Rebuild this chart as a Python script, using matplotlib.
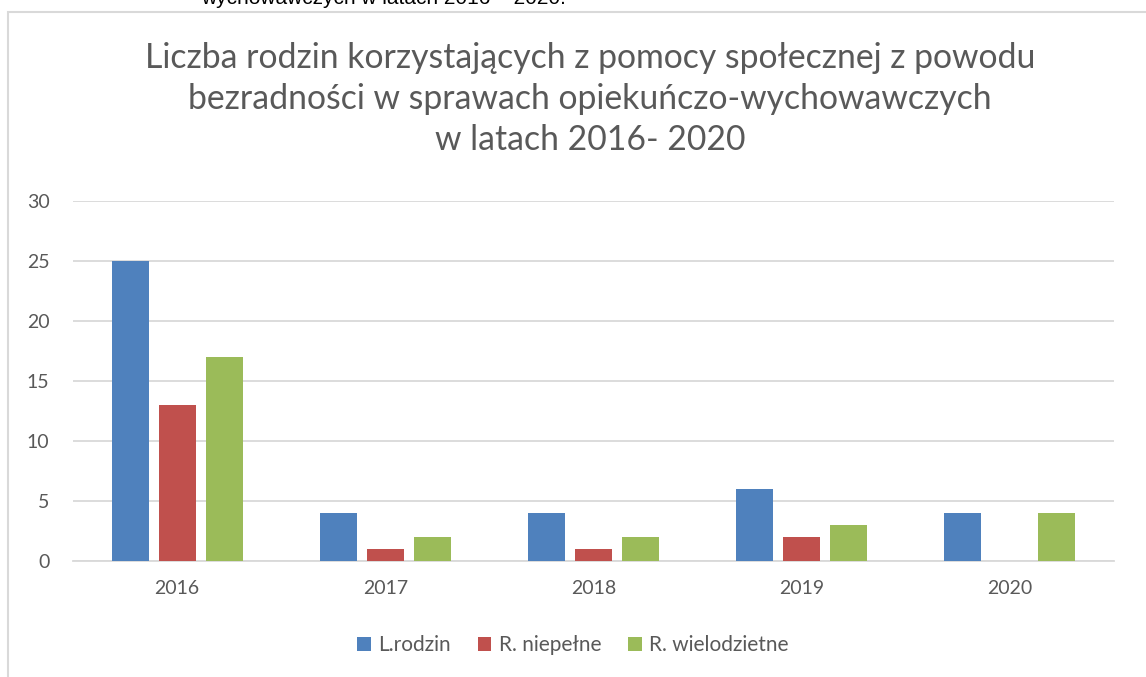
import matplotlib.pyplot as plt
import numpy as np
from matplotlib.patches import Rectangle

# data
years = ['2016', '2017', '2018', '2019', '2020']
l_rodzin = [25, 4, 4, 6, 4]
r_niepelne = [13, 1, 1, 2, 0]
r_wielodzietne = [17, 2, 2, 3, 4]
series_names = ['L.rodzin', 'R. niepełne', 'R. wielodzietne']
colors = ['#4F81BD', '#C0504D', '#9BBB59']

txt = '#595959'
grid = '#D9D9D9'

fig = plt.figure(figsize=(11.46, 6.77), dpi=100)
ax = fig.add_axes([0.0637, 0.1713, 0.9083, 0.5318])

x = np.arange(len(years))
w = 0.178
step = 0.226
for k, (vals, name) in enumerate(zip([l_rodzin, r_niepelne, r_wielodzietne], series_names)):
    ax.bar(x + (k - 1) * step, vals, width=w, color=colors[k], label=name, zorder=3)

ax.set_xlim(-0.5, len(years) - 0.5)
ax.set_ylim(0, 30)
ax.set_yticks(range(0, 31, 5))
ax.set_xticks(x)
ax.set_xticklabels(years)
ax.yaxis.grid(True, color=grid, lw=1.3, zorder=0)
for s in ['top', 'right', 'left']:
    ax.spines[s].set_visible(False)
ax.spines['bottom'].set_color(grid)
ax.spines['bottom'].set_linewidth(1.3)
ax.tick_params(length=0, labelsize=14, labelcolor=txt)
ax.tick_params(axis='x', pad=14)
ax.tick_params(axis='y', pad=17)
for lab in ax.get_xticklabels() + ax.get_yticklabels():
    lab.set_family('Lato')

fig.text(0.515, 0.938,
         'Liczba rodzin korzystających z pomocy społecznej z powodu\n'
         'bezradności w sprawach opiekuńczo-wychowawczych\n'
         'w latach 2016- 2020',
         ha='center', va='top', fontsize=24.3, color=txt, family='Lato',
         linespacing=1.34)

leg = fig.legend(loc='center', bbox_to_anchor=(0.5, 1 - 645 / 677), ncol=3,
                 frameon=False, prop={'family': 'Lato', 'size': 15},
                 handlelength=0.65, handleheight=0.65, handletextpad=0.35,
                 columnspacing=1.3)
for t in leg.get_texts():
    t.set_color(txt)

# chart frame (partly outside the crop)
fig.patches.append(Rectangle((8 / 1146, -0.1), 1.2, 1.1 - 12 / 677, transform=fig.transFigure,
                             fill=False, edgecolor=grid, lw=1.5))

# caption text cut off at the top
fig.text(383 / 1146, 1 - 4 / 677, 'wychowawczych w latach 2016 – 2020.', ha='center', va='baseline',
         fontsize=15, family='Liberation Sans', color='black')

fig.savefig('out.png', dpi=100)
